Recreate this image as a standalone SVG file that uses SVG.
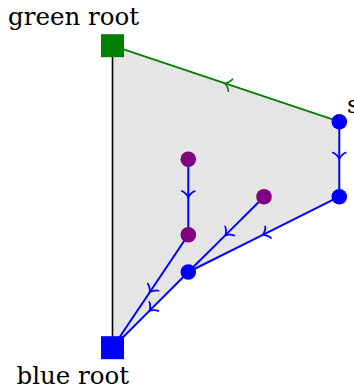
<svg xmlns="http://www.w3.org/2000/svg" width="354" height="391" viewBox="0 0 354 391">
  <style>
    .lbl { font-family: "DejaVu Serif", "Liberation Serif", serif; font-size: 24.5px; fill: #000; }
    .be { stroke: #0000ff; stroke-width: 2; fill: none; marker-mid: url(#ab); }
    .ge { stroke: #008000; stroke-width: 1.8; fill: none; marker-mid: url(#ag); }
    .bn { fill: #0000ff; }
    .pn { fill: #800080; }
  </style>
  <defs>
    <marker id="ab" markerUnits="userSpaceOnUse" orient="auto" overflow="visible" markerWidth="1" markerHeight="1" refX="0" refY="0">
      <path d="M -4.8,-6.4 C -4.4,-4 0,-0.4 1.2,0 C 0,0.4 -4.4,4 -4.8,6.4" fill="none" stroke="#0000ff" stroke-width="1.8" stroke-linecap="round"/>
    </marker>
    <marker id="ag" markerUnits="userSpaceOnUse" orient="auto" overflow="visible" markerWidth="1" markerHeight="1" refX="0" refY="0">
      <path d="M -4.8,-6.4 C -4.4,-4 0,-0.4 1.2,0 C 0,0.4 -4.4,4 -4.8,6.4" fill="none" stroke="#008000" stroke-width="1.6" stroke-linecap="round"/>
    </marker>
  </defs>

  <polygon points="112.5,45.7 339.3,121.7 339.3,196.7 188.3,272 112.5,347.7" fill="#e5e5e5"/>
  <line x1="112.5" y1="45.7" x2="112.5" y2="347.7" stroke="#000" stroke-width="1.6"/>

  <g id="connectors">
    <path class="ge" d="M 339.3,121.7 L 225.9,83.7 L 112.5,45.7"/>
    <path class="be" d="M 339.3,121.7 L 339.3,157.5 L 339.3,196.7"/>
    <path class="be" d="M 339.3,196.7 L 263.8,234.4 L 188.3,272"/>
    <path class="be" d="M 264,196.7 L 226.2,234.4 L 188.3,272"/>
    <path class="be" d="M 188.3,159.3 L 188.3,196 L 188.3,234.7"/>
    <path class="be" d="M 188.3,234.7 L 150.4,291.2 L 112.5,347.7"/>
    <path class="be" d="M 188.3,272 L 150.4,309.9 L 112.5,347.7"/>
  </g>

  <g id="green-root">
    <rect x="101" y="34.2" width="23" height="23" fill="#008000"/>
    <text class="lbl" x="8" y="25">green root</text>
  </g>
  <g id="blue-root">
    <rect x="101" y="336.2" width="23" height="23" fill="#0000ff"/>
    <text class="lbl" x="16.5" y="384">blue root</text>
  </g>
  <g id="s">
    <circle class="bn" cx="339.3" cy="121.7" r="7.8"/>
    <text class="lbl" x="347" y="113">s</text>
  </g>
  <g id="b1"><circle class="bn" cx="339.3" cy="196.7" r="7.8"/></g>
  <g id="b2"><circle class="bn" cx="188.3" cy="272" r="7.8"/></g>
  <g id="p1"><circle class="pn" cx="188.3" cy="159.3" r="7.8"/></g>
  <g id="p2"><circle class="pn" cx="264" cy="196.7" r="7.8"/></g>
  <g id="p3"><circle class="pn" cx="188.3" cy="234.7" r="7.8"/></g>
</svg>
